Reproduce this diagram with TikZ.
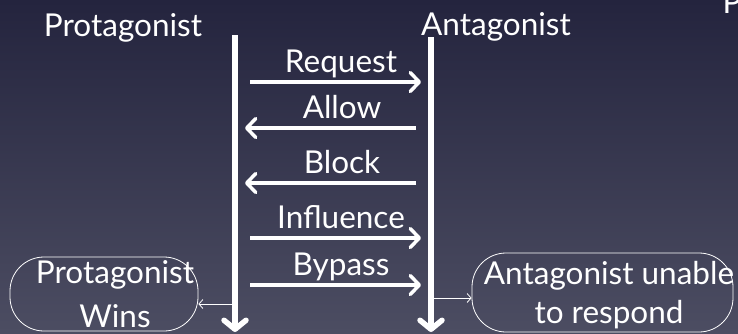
\documentclass[tikz,border=0pt]{standalone}
\usepackage{fontspec}
\setmainfont{Lato}
\usetikzlibrary{arrows.meta}

\definecolor{slidetop}{RGB}{36,36,62}
\definecolor{slidebottom}{RGB}{76,77,98}

\begin{document}
\begin{tikzpicture}[x=1pt, y=-1pt,
    every node/.style={text=white, font=\fontsize{31.5}{44}\selectfont},
    lifeline/.style={white, line width=5.5pt, -{Straight Barb[round, length=9pt, width=22pt]}},
    msg/.style={white, line width=3.5pt, -{Straight Barb[round, length=9pt, width=19pt]}},
    result/.style={white, line width=0.8pt, -{Straight Barb[length=4pt, width=9pt]}},
    endbox/.style={draw=white, line width=0.8pt, rounded corners=34pt, inner sep=0pt}]

    % background
    \shade[top color=slidetop, bottom color=slidebottom] (0,0) rectangle (738,333);
    \useasboundingbox (0,0) rectangle (738,333);

    % headings
    \node[anchor=base] (protagonist) at (123,36) {Protagonist};
    \node[anchor=base] (antagonist) at (496,35) {Antagonist};
    \node[anchor=base west] (cutoff) at (719,13) {Pl};

    % lifelines
    \coordinate (prot-top) at (235,35);
    \coordinate (prot-end) at (235,332);
    \coordinate (anta-top) at (431,37);
    \coordinate (anta-end) at (431,332);
    \draw[lifeline] (prot-top) -- (prot-end);
    \draw[lifeline] (anta-top) -- (anta-end);

    % messages
    \coordinate (req-a) at (250,82);    \coordinate (req-b) at (421,82);
    \coordinate (allow-a) at (416,128); \coordinate (allow-b) at (245,128);
    \coordinate (block-a) at (416,183); \coordinate (block-b) at (245,183);
    \coordinate (infl-a) at (250,238);  \coordinate (infl-b) at (421,238);
    \coordinate (bypass-a) at (250,285); \coordinate (bypass-b) at (421,285);

    \node[anchor=base] (request) at (341,72) {Request};
    \node[anchor=base] (allow) at (342,118) {Allow};
    \node[anchor=base] (block) at (342,173) {Block};
    \node[anchor=base] (influence) at (341,228) {Influence};
    \node[anchor=base] (bypass) at (341,275) {Bypass};

    \draw[msg] (req-a) -- (req-b);
    \draw[msg] (allow-a) -- (allow-b);
    \draw[msg] (block-a) -- (block-b);
    \draw[msg] (infl-a) -- (infl-b);
    \draw[msg] (bypass-a) -- (bypass-b);

    % outcomes
    \node[endbox, minimum width=188pt, minimum height=74pt] (protbox) at (104,294) {};
    \node[align=center] (protwins) at (115,294) {Protagonist\\Wins};
    \node[endbox, minimum width=261pt, minimum height=79pt] (antbox) at (602.5,292.5) {};
    \node[align=center, font=\fontsize{31.5}{39}\selectfont] (antunable) at (609,295) {Antagonist unable\\to respond};

    \coordinate (prot-out) at (235,304);
    \coordinate (anta-out) at (431,298);
    \draw[result] (prot-out) -- (prot-out -| protbox.east);
    \draw[result] (anta-out) -- (anta-out -| antbox.west);

    % \draw[red] (protbox.north west) rectangle (protbox.south east);
\end{tikzpicture}
\end{document}
